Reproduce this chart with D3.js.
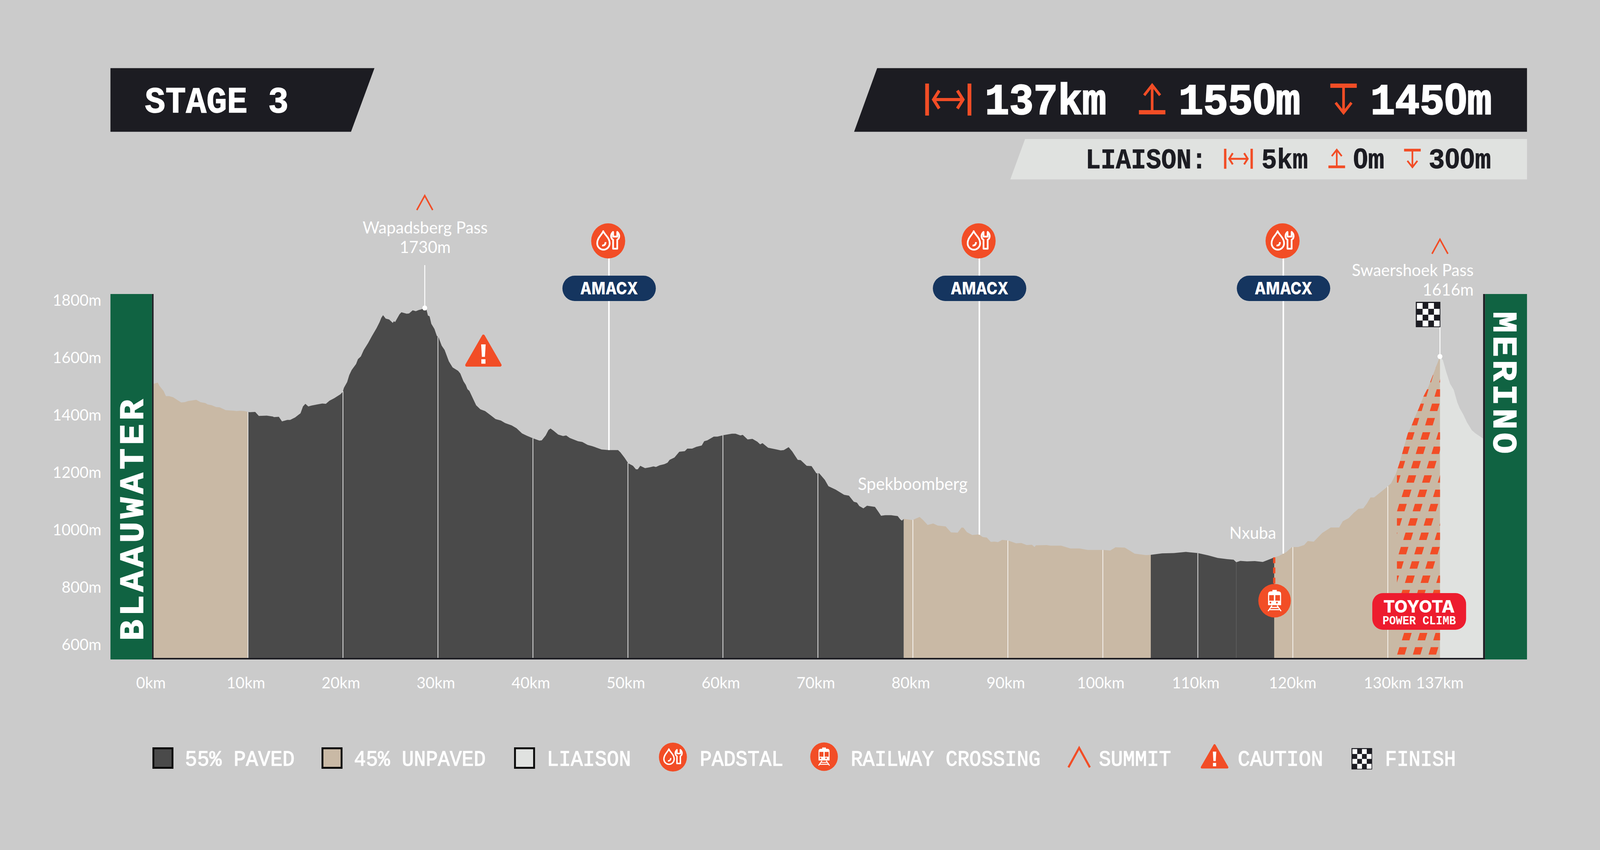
<!DOCTYPE html>
<html>
<head>
<meta charset="utf-8">
<script src="https://cdn.jsdelivr.net/npm/d3@7.9.0/dist/d3.min.js"></script>
<style>
  html, body { margin: 0; padding: 0; background: #cbcbcb; overflow: hidden; }
  svg { display: block; width: 100vw; height: 100vh; }
</style>
</head>
<body>
<svg id="chart" viewBox="0 0 4230 2177" preserveAspectRatio="none"></svg>
<script>
// elevation profile
const profileKm = [0.06,0.5,0.67,1.11,1.36,1.69,2.12,2.96,3.34,3.72,4.56,4.99,5.5,5.75,6.19,6.64,7.02,7.66,8.55,8.8,9.18,9.64,10.15,10.76,11.14,11.98,12.61,12.74,13.25,13.58,14.14,14.44,14.97,15.53,15.79,16.04,16.35,16.68,17.31,17.82,18.2,18.58,19.09,19.72,19.98,20.1,20.44,20.66,20.92,21.38,21.58,21.88,22.19,22.65,23.03,23.54,23.86,24.04,24.22,24.5,24.86,25.24,25.36,25.49,25.64,25.95,26.15,26.71,26.96,27.34,27.67,27.98,28.23,28.61,28.79,28.94,29.12,29.3,29.63,29.88,30.06,30.39,30.7,31.15,31.54,32.12,32.35,32.68,32.93,33.11,33.31,34.02,34.46,34.96,35.6,36.06,36.62,37.07,37.76,38.27,38.85,39.36,40,40.68,40.93,41.34,41.64,41.85,42.15,42.66,43.17,43.5,43.88,44.74,45.2,45.76,46.22,47.23,47.99,48.96,49.21,49.65,50.03,50.53,50.84,51.04,51.3,51.8,52.31,52.69,52.95,53.33,53.84,54.17,54.39,54.9,55.41,55.99,56.25,56.76,57.19,57.77,58.03,58.36,59.04,59.42,60.06,60.95,61.33,61.84,62.09,62.6,63.11,63.62,63.92,64.17,64.76,65.52,66.08,66.41,66.92,67.3,67.88,68.19,68.82,69.33,69.84,70.14,70.73,71.11,71.87,72.76,73.27,73.78,74.11,74.36,74.79,75.17,76.01,76.39,76.65,77.08,77.71,78.4,78.68,78.84,79.04,79.96,80.3,80.71,81.08,81.55,82.14,82.61,83.45,84.01,84.71,85.13,85.33,85.69,86.25,86.95,87.36,87.78,88.2,88.62,88.96,89.4,90.02,90.86,91.42,91.98,92.53,92.81,92.95,94.07,94.49,95.61,96.59,97.56,98.4,100.08,100.78,101.33,102.31,102.87,103.35,104.55,105.05,106.23,107.48,108.74,110,111.11,112.09,113.07,113.77,114.05,114.47,115.17,116,116.84,117.68,118.04,118.52,119.3,119.92,120.56,121.19,121.57,122.21,122.59,123.1,123.61,123.99,124.88,125.26,125.89,126.4,126.91,127.42,127.8,128.18,128.56,129.19,129.91,130.34,130.85,131.23,131.73,132.11,132.5,132.88,133.26,133.77,134.27,134.65,135.04,135.49,135.8,136.18,136.56,136.94,137.32,137.58,137.96,138.34,138.85,139.23,140.04];
const profileElev = [1509,1513,1502,1484,1466,1466,1462,1444,1445,1449,1453,1445,1442,1437,1434,1428,1427,1417,1415,1414,1415,1414,1410,1411,1397,1398,1395,1393,1394,1378,1383,1383,1392,1406,1430,1439,1430,1433,1437,1440,1439,1450,1459,1472,1481,1495,1515,1539,1557,1578,1595,1604,1627,1651,1674,1703,1724,1739,1748,1736,1733,1721,1727,1724,1733,1751,1758,1753,1754,1765,1762,1766,1768,1773,1768,1747,1744,1718,1700,1676,1671,1642,1627,1587,1566,1554,1545,1518,1505,1490,1484,1434,1420,1414,1398,1386,1381,1372,1364,1354,1336,1328,1319,1311,1312,1329,1348,1353,1346,1332,1327,1329,1320,1309,1306,1296,1292,1280,1278,1278,1270,1251,1232,1223,1211,1211,1223,1215,1218,1221,1219,1225,1229,1234,1244,1252,1272,1274,1283,1283,1289,1294,1309,1312,1325,1325,1330,1335,1335,1329,1331,1315,1317,1307,1298,1302,1286,1281,1277,1278,1288,1273,1244,1243,1223,1222,1197,1197,1174,1152,1140,1122,1119,1098,1095,1083,1075,1084,1080,1062,1049,1051,1051,1048,1036,1032,1038,1034,1039,1045,1034,1017,1022,1015,1012,991,990,1008,1007,992,982,984,975,973,958,959,957,965,963,953,954,947,948,940,946,947,945,945,935,935,930,930,928,939,938,927,917,912,913,918,919,923,919,911,902,898,896,887,892,890,891,888,899,904,909,922,940,940,947,961,959,972,989,1000,1008,1008,1030,1041,1059,1073,1075,1092,1113,1113,1130,1149,1162,1195,1233,1292,1336,1363,1395,1423,1466,1498,1531,1564,1604,1591,1547,1509,1488,1444,1423,1401,1374,1347,1336,1318];

// surface changes along the route
const surfaceStart = [0.06, 10, 79.04, 105.05, 118.04, 135.5];
const surfaceEnd = [10, 79.04, 105.05, 118.04, 135.5, 140.04];
const surfaceType = ['unpaved', 'paved', 'unpaved', 'paved', 'unpaved', 'liaison'];

const elevTicks = [600, 800, 1000, 1200, 1400, 1600, 1800];
const kmTicks = [0, 10, 20, 30, 40, 50, 60, 70, 80, 90, 100, 110, 120, 130, 135.5];
const kmLabels = ['0km','10km','20km','30km','40km','50km','60km','70km','80km','90km','100km','110km','120km','130km','137km'];
const gridKm = [10, 20, 30, 40, 50, 60, 70, 80, 90, 100, 110, 120, 130];
const padstalKm = [48, 87, 119];
const railwayKm = 118.04;
const climbStartKm = 130.96;
const climbEndKm = 135.5;

const legendLabels = ['55% PAVED', '45% UNPAVED', 'LIAISON', 'PADSTAL', 'RAILWAY CROSSING', 'SUMMIT', 'CAUTION', 'FINISH'];

const C = {
  bg: '#cbcbcb', dark: '#1c1c22', paved: '#4a4a4a', unpaved: '#c9b9a5', liaison: '#e0e2e0',
  green: '#106342', orange: '#f24d26', navy: '#15355f', red: '#ed1c2e', white: '#ffffff'
};
const surfaceFill = { paved: C.paved, unpaved: C.unpaved, liaison: C.liaison };

const MONO = '"Liberation Mono", monospace';
const SANS = 'Lato, sans-serif';

const svg = d3.select('#chart');
const defs = svg.append('defs');
svg.append('rect').attr('width', 4230).attr('height', 2177).attr('fill', C.bg);

const x = d3.scaleLinear().domain([0, 130]).range([404.5, 3669]);
const y = d3.scaleLinear().domain([600, 1800]).range([1651, 769]);
const baseY = 1685;

const profile = profileKm.map((km, i) => ({ km, elev: profileElev[i] }));
const bisectKm = d3.bisector((d) => d.km).left;
function elevAt(km) {
  let i = Math.max(1, bisectKm(profile, km));
  let a = profile[i - 1], b = profile[i];
  return a.elev + (b.elev - a.elev) * (km - a.km) / (b.km - a.km);
}

// mono text squeezed to the measured width, zeros come from the sans so they have no dot
function mono(parent, str, x0, x1, baseline, size, fill, weight = 700, heavy = 0) {
  let t = parent.append('text')
    .attr('x', x0).attr('y', baseline)
    .attr('font-family', MONO).attr('font-weight', weight)
    .attr('font-size', size).attr('fill', fill)
    .attr('stroke', fill).attr('stroke-width', heavy)
    .attr('textLength', x1 - x0).attr('lengthAdjust', 'spacingAndGlyphs');
  str.split(/(0)/).filter((s) => s).forEach((s) => {
    let span = t.append('tspan').text(s);
    if (s === '0') span.attr('font-family', '"Liberation Sans", sans-serif');
  });
  return t;
}

function sans(parent, str, px, py, anchor = 'middle') {
  return parent.append('text')
    .attr('x', px).attr('y', py).attr('text-anchor', anchor)
    .attr('font-family', SANS).attr('font-size', 43).attr('fill', C.white)
    .text(str);
}

// ---- header
svg.append('polygon').attr('fill', C.dark).attr('points', '292,174.5 990,174.5 928,337.5 292,337.5');
mono(svg, 'STAGE 3', 383, 763, 288, 94, C.white, 700, 1.5);

svg.append('polygon').attr('fill', C.dark).attr('points', '2319,174.5 4037,174.5 4037,337.5 2258,337.5');
svg.append('polygon').attr('fill', C.liaison).attr('points', '2710,356 4037,356 4037,459.5 2671,459.5');

function iconWidth(px, py, k) {
  let g = svg.append('g').attr('transform', `translate(${px},${py}) scale(${k})`)
    .attr('fill', 'none').attr('stroke', C.orange).attr('stroke-width', 8);
  g.append('path').attr('stroke-width', 10).attr('d', 'M5,0V82M117,0V82');
  g.append('path').attr('d', 'M22,41H100M37,18L22,41L37,64M85,18L100,41L85,64');
}
function iconUp(px, py, k) {
  let g = svg.append('g').attr('transform', `translate(${px},${py}) scale(${k})`)
    .attr('fill', 'none').attr('stroke', C.orange).attr('stroke-width', 7);
  g.append('path').attr('d', 'M35,4V70M14,30L35,4L56,30');
  g.append('rect').attr('x', 0).attr('y', 68).attr('width', 70).attr('height', 11).attr('fill', C.orange).attr('stroke', 'none');
}
function iconDown(px, py, k) {
  let g = svg.append('g').attr('transform', `translate(${px},${py}) scale(${k})`)
    .attr('fill', 'none').attr('stroke', C.orange).attr('stroke-width', 7);
  g.append('path').attr('d', 'M35,75V9M14,49L35,75L56,49');
  g.append('rect').attr('x', 0).attr('y', 0).attr('width', 70).attr('height', 11).attr('fill', C.orange).attr('stroke', 'none');
}

iconWidth(2446, 214, 1);
mono(svg, '137km', 2604, 2925, 292, 112, C.white, 700, 3);
iconUp(3011, 214, 1);
mono(svg, '1550m', 3116, 3438, 292, 112, C.white, 700, 3);
iconDown(3517, 214, 1);
mono(svg, '1450m', 3623, 3944, 292, 112, C.white, 700, 3);

mono(svg, 'LIAISON:', 2870, 3190, 431, 72, C.dark, 700, 1);
iconWidth(3236, 381, 0.625);
mono(svg, '5km', 3335, 3458, 431, 72, C.dark, 700, 1);
iconUp(3512, 381, 0.63);
mono(svg, '0m', 3577, 3660, 431, 72, C.dark, 700, 1);
iconDown(3712, 381, 0.63);
mono(svg, '300m', 3777, 3942, 431, 72, C.dark, 700, 1);

// ---- profile
const area = d3.area()
  .x((d) => x(d.km))
  .y0(baseY)
  .y1((d) => y(d.elev));

surfaceType.forEach((type, i) => {
  defs.append('clipPath').attr('id', `seg${i}`)
    .append('rect')
    .attr('x', x(surfaceStart[i])).attr('y', 600)
    .attr('width', x(surfaceEnd[i]) - x(surfaceStart[i])).attr('height', 1100);
  svg.append('path').datum(profile)
    .attr('d', area)
    .attr('fill', surfaceFill[type])
    .attr('clip-path', `url(#seg${i})`);
});

// power climb hatch
defs.append('clipPath').attr('id', 'climbArea').append('path').datum(profile).attr('d', area);
defs.append('clipPath').attr('id', 'climbBand').append('rect')
  .attr('x', x(climbStartKm)).attr('y', 800)
  .attr('width', x(climbEndKm) - x(climbStartKm)).attr('height', 900);
const hatch = svg.append('g').attr('clip-path', 'url(#climbBand)')
  .append('g').attr('clip-path', 'url(#climbArea)').attr('fill', C.orange);
d3.range(-9, 14).forEach((row) => {
  let rowY = 1190 + row * 36.7;
  d3.range(-6, 10).forEach((col) => {
    let left = 3731.4 - row * 12.4 + col * 41.5;
    hatch.append('polygon').attr('points',
      `${left + 5},${rowY - 9.5} ${left + 25},${rowY - 9.5} ${left + 19},${rowY + 9.5} ${left - 1},${rowY + 9.5}`);
  });
});

// km lines
svg.append('g').selectAll('line').data(gridKm).join('line')
  .attr('x1', (d) => x(d)).attr('x2', (d) => x(d))
  .attr('y1', (d) => y(elevAt(d))).attr('y2', baseY)
  .attr('stroke', C.white).attr('stroke-width', 2).attr('stroke-opacity', 0.85);
svg.append('line').attr('x1', x(114.05)).attr('x2', x(114.05))
  .attr('y1', y(elevAt(114.05))).attr('y2', baseY)
  .attr('stroke', '#5c5c5c').attr('stroke-width', 2);

// base line and end panels
svg.append('rect').attr('x', 402).attr('y', baseY).attr('width', 3524).attr('height', 4).attr('fill', C.dark);
svg.append('rect').attr('x', 292).attr('y', 753).attr('width', 110).attr('height', 936).attr('fill', C.green);
svg.append('rect').attr('x', 402).attr('y', 753).attr('width', 4).attr('height', 936).attr('fill', C.dark);
svg.append('rect').attr('x', 3926).attr('y', 753).attr('width', 111).attr('height', 936).attr('fill', C.green);
svg.append('rect').attr('x', 3921).attr('y', 753).attr('width', 5).attr('height', 936).attr('fill', C.dark);

svg.append('text')
  .attr('transform', 'translate(377.5,1641) rotate(-90)')
  .attr('font-family', MONO).attr('font-weight', 700).attr('font-size', 90).attr('fill', C.white)
  .attr('stroke', C.white).attr('stroke-width', 2)
  .attr('textLength', 618).attr('lengthAdjust', 'spacing')
  .text('BLAAUWATER');
svg.append('text')
  .attr('transform', 'translate(3949.5,798) rotate(90)')
  .attr('font-family', MONO).attr('font-weight', 700).attr('font-size', 90).attr('fill', C.white)
  .attr('stroke', C.white).attr('stroke-width', 2)
  .attr('textLength', 364).attr('lengthAdjust', 'spacing')
  .text('MERINO');

// ---- axes
const yAxis = svg.append('g').attr('transform', 'translate(268,0)')
  .call(d3.axisLeft(y).tickValues(elevTicks).tickSize(0).tickPadding(0).tickFormat((d) => `${d}m`));
const xAxis = svg.append('g').attr('transform', `translate(0,${baseY})`)
  .call(d3.axisBottom(x).tickValues(kmTicks).tickSize(0).tickPadding(49).tickFormat((d, i) => kmLabels[i]));
yAxis.select('.domain').remove();
xAxis.select('.domain').remove();
svg.selectAll('.tick text').attr('font-family', SANS).attr('font-size', 41).attr('fill', C.white);
xAxis.selectAll('.tick text').attr('dx', (d, i) => (i < 12 ? -6 : -1));

// ---- markers
function circleIcon(px, py, r, kind) {
  let g = svg.append('g').attr('transform', `translate(${px},${py})`);
  g.append('circle').attr('r', r).attr('fill', C.orange);
  let k = r / 45;
  let ic = g.append('g').attr('transform', `scale(${k})`);
  if (kind === 'padstal') {
    ic.attr('fill', 'none').attr('stroke', C.white).attr('stroke-width', 4.5).attr('stroke-linejoin', 'round');
    ic.append('path').attr('d', 'M-13,-25C-9,-15 4,-8 4,6A16.5,16.5 0 0 1 -29,6C-29,-8 -17,-15 -13,-25Z');
    ic.append('path').attr('d', 'M-7,3C-7,9 -10,12 -16,12');
    ic.append('path').attr('d', 'M13,-23C5,-16 7,-6 13,-3V20H24V-3C30,-6 32,-16 24,-23V-11H13Z');
  } else {
    ic.append('path').attr('fill', C.white).attr('fill-rule', 'evenodd')
      .attr('d', 'M-18,-18Q-18,-25 -10,-25H10Q18,-25 18,-18V12H-18ZM-15,-15V0H-2V-15ZM2,-15V0H15V-15ZM-9,5A2.5,2.5 0 1 0 -9,5.1ZM9,5A2.5,2.5 0 1 0 9,5.1Z');
    ic.append('rect').attr('x', -6).attr('y', -29).attr('width', 12).attr('height', 5).attr('fill', C.white);
    ic.append('path').attr('stroke', C.white).attr('stroke-width', 3).attr('fill', 'none')
      .attr('d', 'M-7,13L-18,28M7,13L18,28M-11,18H11M-15,24H15');
  }
}

function summit(px, py, k) {
  svg.append('path').attr('transform', `translate(${px},${py}) scale(${k})`)
    .attr('d', 'M-21,38L0,1L21,38').attr('fill', 'none').attr('stroke', C.orange).attr('stroke-width', 4);
}

function caution(px, py, k) {
  let g = svg.append('g').attr('transform', `translate(${px},${py}) scale(${k})`);
  g.append('path').attr('d', 'M0,4L44,78H-44Z').attr('fill', C.orange).attr('stroke', C.orange)
    .attr('stroke-width', 8).attr('stroke-linejoin', 'round');
  g.append('path').attr('d', 'M-6,25H6L4,57H-4Z').attr('fill', C.white);
  g.append('rect').attr('x', -5.5).attr('y', 63).attr('width', 11).attr('height', 11.5).attr('fill', C.white);
}

function flag(px, py, k) {
  let g = svg.append('g').attr('transform', `translate(${px},${py}) scale(${k})`);
  g.append('rect').attr('width', 65).attr('height', 65).attr('fill', C.dark);
  d3.range(4).forEach((r) => d3.range(4).forEach((c) => {
    if ((r + c) % 2 === 0) {
      g.append('rect').attr('x', 3 + c * 15).attr('y', 3 + r * 15).attr('width', 15).attr('height', 15).attr('fill', C.white);
    }
  }));
}

// padstal lines, circles and sponsor pills
padstalKm.forEach((km) => {
  let px = x(km);
  svg.append('line').attr('x1', px).attr('x2', px).attr('y1', 617).attr('y2', y(elevAt(km)))
    .attr('stroke', C.white).attr('stroke-width', 4);
  circleIcon(px - 2, 617, 45, 'padstal');
  svg.append('rect').attr('x', px - 123).attr('y', 706).attr('width', 247).attr('height', 65)
    .attr('rx', 32.5).attr('fill', C.navy);
  svg.append('text').attr('x', px - 76).attr('y', 754)
    .attr('font-family', 'Inter, sans-serif').attr('font-weight', 800).attr('font-size', 44).attr('fill', C.white)
    .attr('textLength', 153).attr('lengthAdjust', 'spacingAndGlyphs')
    .text('AMACX');
});

// summits
const summitAKm = 28.61, summitBKm = 135.49;
svg.append('line').attr('x1', x(summitAKm)).attr('x2', x(summitAKm)).attr('y1', 679).attr('y2', y(elevAt(summitAKm)))
  .attr('stroke', C.white).attr('stroke-width', 2.5);
svg.append('circle').attr('cx', x(summitAKm)).attr('cy', y(elevAt(summitAKm))).attr('r', 6.5).attr('fill', C.white);
summit(x(summitAKm), 500, 1);
sans(svg, 'Wapadsberg Pass', 1124, 598);
sans(svg, '1730m', 1124, 648);

svg.append('line').attr('x1', x(summitBKm)).attr('x2', x(summitBKm)).attr('y1', 838).attr('y2', y(elevAt(summitBKm)))
  .attr('stroke', C.white).attr('stroke-width', 2.5);
svg.append('circle').attr('cx', x(summitBKm)).attr('cy', y(elevAt(summitBKm))).attr('r', 6.5).attr('fill', C.white);
summit(x(summitBKm), 612, 1);
sans(svg, 'Swaershoek Pass', 3896, 707, 'end');
sans(svg, '1616m', 3896, 757, 'end');
flag(3743, 773, 1);

sans(svg, 'Spekboomberg', 2413, 1255).attr('font-size', 44);
sans(svg, 'Nxuba', 3312, 1380);

caution(1278, 857, 1);

// railway
svg.append('line').attr('x1', x(railwayKm)).attr('x2', x(railwayKm)).attr('y1', y(elevAt(railwayKm))).attr('y2', 1500)
  .attr('stroke', C.orange).attr('stroke-width', 6).attr('stroke-dasharray', '15 11');
circleIcon(x(railwayKm) + 1, 1538.5, 43, 'railway');

// power climb badge
svg.append('rect').attr('x', 3628).attr('y', 1519).attr('width', 248).attr('height', 94).attr('rx', 28).attr('fill', C.red);
svg.append('text').attr('x', 3657).attr('y', 1569)
  .attr('font-family', 'Inter, sans-serif').attr('font-weight', 800).attr('font-size', 44).attr('fill', C.white)
  .attr('textLength', 189).attr('lengthAdjust', 'spacingAndGlyphs').text('TOYOTA');
mono(svg, 'POWER CLIMB', 3655, 3849, 1599, 32, C.white);

// ---- legend
const legendStart = [491, 938, 1447.6, 1852, 2251.5, 2907, 3274.5, 3663.7];
const legendEnd = [777, 1282, 1666, 2069, 2748.7, 3094, 3496, 3847];
const legendBaseline = 1961;
legendLabels.forEach((label, i) => {
  mono(svg, label, legendStart[i] - 2, legendEnd[i] + 2, legendBaseline, 56, C.white, 400, 1.5);
});
[[405.5, surfaceFill.paved], [852.5, surfaceFill.unpaved], [1361.5, surfaceFill.liaison]].forEach(([px, fill]) => {
  svg.append('rect').attr('x', px).attr('y', 1916.5).attr('width', 50.5).attr('height', 50)
    .attr('fill', fill).attr('stroke', '#0a0a0a').attr('stroke-width', 5);
});
circleIcon(1779, 1939, 37, 'padstal');
circleIcon(2178.6, 1938, 36.5, 'railway');
summit(2853, 1914, 1.35);
caution(3211, 1906, 0.76);
flag(3573, 1916, 0.84);
</script>
</body>
</html>
